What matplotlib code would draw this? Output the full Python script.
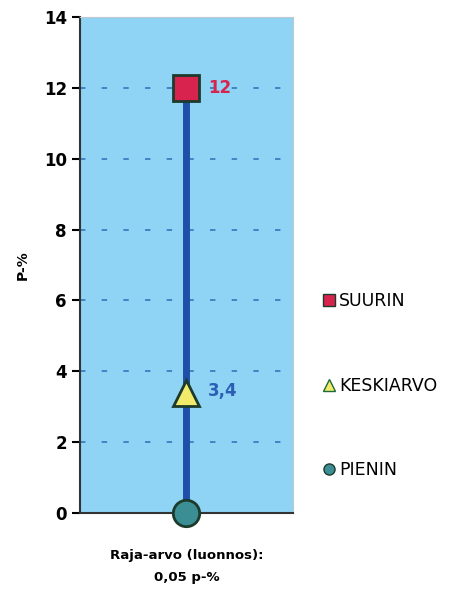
import matplotlib
matplotlib.use("Agg")
import matplotlib.pyplot as plt
from matplotlib.lines import Line2D

categories = ["Raja-arvo (luonnos):\n0,05 p-%"]
suurin = [12]
keskiarvo = [3.4]
pienin = [0]
series_names = ["SUURIN", "KESKIARVO", "PIENIN"]
y_ticks = [0, 2, 4, 6, 8, 10, 12, 14]

fig = plt.figure(figsize=(4.68, 5.91), dpi=100)
ax = fig.add_axes([0.171, 0.132, 0.455, 0.839])
ax.set_facecolor("#8fd3f5")

ax.set_xlim(-0.5, 0.5)
ax.set_ylim(0, 14)
ax.set_yticks(y_ticks)
ax.yaxis.grid(True, linestyle=(0, (3, 9)), color="#3a7fc0", linewidth=1.3)
ax.set_axisbelow(True)

x = list(range(len(categories)))
for i in x:
    ax.plot([i, i], [pienin[i], suurin[i]], color="#1f4fa8", linewidth=5, zorder=3, solid_capstyle="butt")

ax.plot(x, suurin, marker="s", markersize=19, color="#d8234f", markeredgecolor="#1c3b2a",
        markeredgewidth=2, linestyle="none", zorder=5, clip_on=False)
ax.plot(x, keskiarvo, marker="^", markersize=19, color="#f2ea6a", markeredgecolor="#1c3b2a",
        markeredgewidth=2, linestyle="none", zorder=5, clip_on=False)
ax.plot(x, pienin, marker="o", markersize=19, color="#3b8f94", markeredgecolor="#1c3b2a",
        markeredgewidth=2, linestyle="none", zorder=5, clip_on=False)

for i in x:
    ax.text(i + 0.1, suurin[i], f"{suurin[i]:g}", color="#d8234f", fontsize=12,
            fontweight="bold", va="center", ha="left", zorder=6)
    ax.text(i + 0.1, keskiarvo[i] + 0.05, f"{keskiarvo[i]:g}".replace(".", ","), color="#2a5fb5",
            fontsize=12, fontweight="bold", va="center", ha="left", zorder=6)

ax.set_xticks(x)
ax.set_xticklabels(categories, fontsize=9.5, fontweight="bold", linespacing=1.9)
ax.tick_params(axis="x", length=0, pad=26)
ax.tick_params(axis="y", labelsize=12, length=6, width=1.5, direction="out")
for lab in ax.get_yticklabels():
    lab.set_fontweight("bold")
ax.set_ylabel("P-%", fontsize=10, fontweight="bold", labelpad=10)

for s in ["top", "right"]:
    ax.spines[s].set_color("#c0c8d0")
    ax.spines[s].set_linewidth(0.8)
for s in ["left", "bottom"]:
    ax.spines[s].set_linewidth(1.5)
    ax.spines[s].set_color("#333333")

handles = [
    Line2D([], [], marker="s", markersize=8, color="#d8234f", markeredgecolor="#1c3b2a", linestyle="none"),
    Line2D([], [], marker="^", markersize=8, color="#f2ea6a", markeredgecolor="#1c6b3a", linestyle="none"),
    Line2D([], [], marker="o", markersize=8, color="#3b8f94", markeredgecolor="#1c3b2a", linestyle="none"),
]
leg = fig.legend(handles, series_names, loc="upper left", bbox_to_anchor=(0.675, 0.518),
                 frameon=False, fontsize=12.5, labelspacing=3.85, handlelength=0.7,
                 handletextpad=0.25, borderaxespad=0)

fig.savefig("out.png", dpi=100)
